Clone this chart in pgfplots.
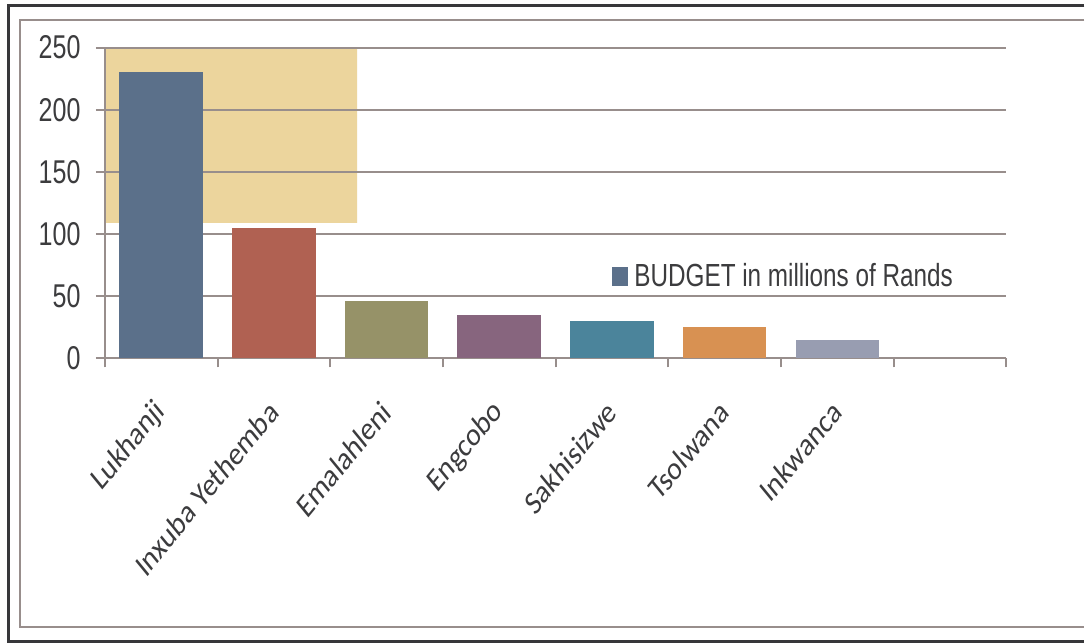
\documentclass[border=0pt]{standalone}
\usepackage{fontspec}
\usepackage{pgfplots}
\pgfplotsset{compat=1.18}
\setmainfont{Carlito}
\newfontfamily\narrowfont{Liberation Sans}[FakeStretch=0.76]
\definecolor{axisgray}{RGB}{152,142,140}
\definecolor{framedark}{RGB}{55,55,58}
\definecolor{txt}{RGB}{60,60,62}
\definecolor{papyrus}{RGB}{236,213,157}
\definecolor{c1}{RGB}{91,112,138}
\definecolor{c2}{RGB}{176,97,82}
\definecolor{c3}{RGB}{150,146,104}
\definecolor{c4}{RGB}{135,101,126}
\definecolor{c5}{RGB}{75,132,155}
\definecolor{c6}{RGB}{216,145,82}
\definecolor{c7}{RGB}{152,157,177}
\pgfplotsset{mybar/.style={ybar, bar width=41.85pt, bar shift=0pt, draw=none},
  geom/.style={at={(52.5pt,142.5pt)}, anchor=south west,
  scale only axis, width=451.5pt, height=155.65pt,
  xmin=-0.5, xmax=7.5, ymin=0, ymax=250}}
\begin{document}
\begin{tikzpicture}
\fill[white] (0,0) rectangle (543pt,322pt);
\draw[line width=1.75pt, framedark] (543pt,319.25pt) -- (4.25pt,319.25pt) -- (4.25pt,0.75pt) -- (543pt,0.75pt);
\draw[line width=1pt, axisgray] (543pt,312pt) -- (10.25pt,312pt) -- (10.25pt,8pt) -- (543pt,8pt);
\begin{axis}[geom, hide axis]
\addplot[fill=papyrus, draw=none, sharp plot] coordinates {(-0.5,109) (1.738,109) (1.738,250) (-0.5,250) (-0.5,109)};
\end{axis}
\begin{axis}[
  geom,
  axis x line*=bottom, axis y line*=left,
  axis line style={axisgray, line width=1pt, -},
  ytick={0,50,100,150,200,250},
  yticklabels={0,50,100,150,200,250},
  yticklabel style={font=\narrowfont\fontsize{16.5}{18}\selectfont, text=txt, inner sep=0pt, xshift=-7.5pt},
  ymajorgrids,
  grid style={axisgray, line width=1pt},
  tick align=outside,
  major tick length=4.5pt,
  minor tick length=4.5pt,
  tick style={axisgray, line width=1pt},
  xtick={0,...,6},
  xticklabels={Lukhanji,Inxuba Yethemba,Emalahleni,Engcobo,Sakhisizwe,Tsolwana,Inkwanca},
  major x tick style={draw=none},
  minor xtick={-0.5,0.5,...,7.5},
  xticklabel style={font=\fontsize{16.5}{18}\selectfont, text=txt, inner sep=0pt, xshift=0pt, yshift=-19.5pt, xscale=0.82, rotate=45, anchor=east},
  legend style={draw=none, fill=none, at={(axis description cs:0.5626,0.263)}, anchor=west, inner sep=0pt,
    font=\narrowfont\fontsize{16}{18}\selectfont, text=txt, cells={anchor=west},
    /tikz/every odd column/.append style={column sep=1pt}},
  legend image code/.code={\fill[#1] (0pt,-4.7pt) rectangle (8pt,4.7pt);},
]
\addplot[mybar, fill=c1] coordinates {(0,230)};
\addlegendentry{BUDGET in millions of Rands}
\addplot[mybar, fill=c2, forget plot] coordinates {(1,105)};
\addplot[mybar, fill=c3, forget plot] coordinates {(2,46)};
\addplot[mybar, fill=c4, forget plot] coordinates {(3,35)};
\addplot[mybar, fill=c5, forget plot] coordinates {(4,30)};
\addplot[mybar, fill=c6, forget plot] coordinates {(5,25)};
\addplot[mybar, fill=c7, forget plot] coordinates {(6,15)};
\end{axis}
\path (0,0) rectangle (543pt,322pt);
\end{tikzpicture}
\end{document}
